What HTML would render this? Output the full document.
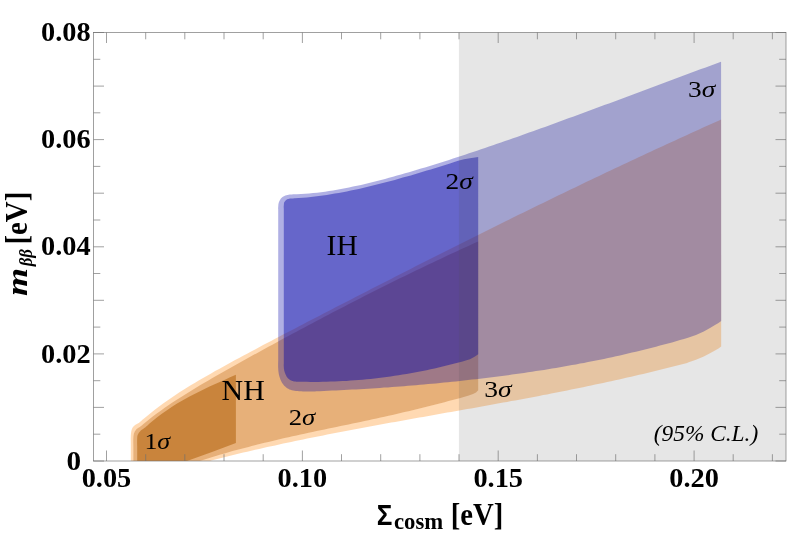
<!DOCTYPE html>
<html><head><meta charset="utf-8"><title>chart</title>
<style>
html,body{margin:0;padding:0;background:#fff;}
body{width:789px;height:533px;overflow:hidden;}
svg{display:block;font-family:"Liberation Serif",serif;fill:#000;}
svg{will-change:transform;}
</style></head><body>
<svg width="789" height="533" viewBox="0 0 789 533">
<defs><clipPath id="pa"><rect x="93.5" y="32.5" width="692.5" height="428.5"/></clipPath></defs>
<rect width="789" height="533" fill="#fff"/>
<g clip-path="url(#pa)">
<path d="M130.8,464.0 L130.8,460.5 L130.8,457.0 L130.8,453.5 L130.8,450.0 L130.8,446.3 L130.8,442.5 L130.7,438.9 L130.8,436.0 L130.9,433.9 L131.1,432.4 L131.3,431.2 L131.6,430.0 L132.0,428.8 L132.5,427.8 L133.2,426.8 L134.0,425.9 L135.1,425.0 L136.4,424.2 L137.8,423.5 L139.1,422.7 L140.2,421.8 L141.2,421.0 L142.1,420.1 L143.1,419.2 L147.1,415.9 L151.1,412.7 L155.1,409.6 L159.1,406.5 L163.1,403.6 L167.1,400.8 L171.1,398.0 L175.1,395.3 L179.1,392.6 L183.1,390.1 L187.1,387.5 L191.1,385.1 L195.1,382.7 L199.1,380.3 L203.1,378.0 L207.1,375.7 L211.1,373.4 L215.1,371.1 L219.1,368.9 L223.1,366.7 L227.1,364.5 L231.1,362.3 L235.1,360.1 L239.1,358.0 L243.1,355.8 L247.1,353.7 L251.1,351.5 L255.1,349.4 L259.1,347.3 L263.1,345.1 L267.1,343.0 L271.1,340.9 L275.1,338.8 L279.1,336.7 L283.1,334.6 L287.1,332.6 L291.1,330.5 L295.1,328.4 L299.1,326.3 L303.1,324.2 L307.1,322.1 L311.1,320.1 L315.1,318.0 L319.1,315.9 L323.1,313.8 L327.1,311.8 L331.1,309.7 L335.1,307.6 L339.1,305.6 L343.1,303.5 L347.1,301.4 L351.1,299.4 L355.1,297.3 L359.1,295.3 L363.1,293.2 L367.1,291.2 L371.1,289.1 L375.1,287.1 L379.1,285.0 L383.1,283.0 L387.1,280.9 L391.1,278.9 L395.1,276.8 L399.1,274.8 L403.1,272.7 L407.1,270.7 L411.1,268.7 L415.1,266.6 L419.1,264.6 L423.1,262.6 L427.1,260.6 L431.1,258.5 L435.1,256.5 L439.1,254.5 L443.1,252.5 L447.1,250.5 L451.1,248.5 L455.1,246.4 L459.1,244.4 L463.1,242.4 L467.1,240.4 L471.1,238.4 L475.1,236.4 L479.1,234.4 L483.1,232.5 L487.1,230.5 L491.1,228.5 L495.1,226.5 L499.1,224.5 L503.1,222.5 L507.1,220.6 L511.1,218.6 L515.1,216.6 L519.1,214.6 L523.1,212.7 L527.1,210.7 L531.1,208.8 L535.1,206.8 L539.1,204.8 L543.1,202.9 L547.1,200.9 L551.1,199.0 L555.1,197.1 L559.1,195.1 L563.1,193.2 L567.1,191.3 L571.1,189.3 L575.1,187.4 L579.1,185.5 L583.1,183.6 L587.1,181.6 L591.1,179.7 L595.1,177.8 L599.1,175.9 L603.1,174.0 L607.1,172.1 L611.1,170.2 L615.1,168.3 L619.1,166.4 L623.1,164.5 L627.1,162.7 L631.1,160.8 L635.1,158.9 L639.1,157.0 L643.1,155.2 L647.1,153.3 L651.1,151.4 L655.1,149.6 L659.1,147.7 L663.1,145.9 L667.1,144.0 L671.1,142.2 L675.1,140.4 L679.1,138.5 L683.1,136.7 L687.1,134.9 L691.1,133.1 L695.1,131.2 L699.1,129.4 L703.1,127.6 L707.1,125.8 L711.1,124.0 L715.1,122.2 L719.1,120.4 L721.1,119.5 L721.2,346.6 L718.5,348.6 L715.0,350.6 L710.0,353.3 L703.8,356.4 L696.0,359.8 L688.0,362.6 L687.2,362.9 L683.2,363.9 L679.2,365.0 L675.2,366.0 L671.2,367.0 L667.2,368.0 L663.2,369.0 L659.2,370.0 L655.2,371.0 L651.2,372.0 L647.2,373.0 L643.2,373.9 L639.2,374.8 L635.2,375.8 L631.2,376.7 L627.2,377.6 L623.2,378.5 L619.2,379.4 L615.2,380.3 L611.2,381.2 L607.2,382.1 L603.2,382.9 L599.2,383.8 L595.2,384.6 L591.2,385.5 L587.2,386.3 L583.2,387.2 L579.2,388.0 L575.2,388.8 L571.2,389.6 L567.2,390.4 L563.2,391.2 L559.2,392.0 L555.2,392.8 L551.2,393.6 L547.2,394.4 L543.2,395.1 L539.2,395.9 L535.2,396.7 L531.2,397.4 L527.2,398.2 L523.2,398.9 L519.2,399.7 L515.2,400.4 L511.2,401.1 L507.2,401.9 L503.2,402.6 L499.2,403.3 L495.2,404.1 L491.2,404.8 L487.2,405.5 L483.2,406.2 L479.2,406.9 L475.2,407.7 L471.2,408.4 L467.2,409.1 L463.2,409.8 L459.2,410.5 L455.2,411.2 L451.2,411.9 L447.2,412.6 L443.2,413.3 L439.2,414.1 L435.2,414.8 L431.2,415.5 L427.2,416.2 L423.2,416.9 L419.2,417.6 L415.2,418.3 L411.2,419.0 L407.2,419.7 L403.2,420.5 L399.2,421.2 L395.2,421.9 L391.2,422.6 L387.2,423.3 L383.2,424.1 L379.2,424.8 L375.2,425.5 L371.2,426.3 L367.2,427.0 L363.2,427.8 L359.2,428.5 L355.2,429.3 L351.2,430.0 L347.2,430.8 L343.2,431.5 L339.2,432.3 L335.2,433.1 L331.2,433.8 L327.2,434.6 L323.2,435.4 L319.2,436.2 L315.2,437.0 L311.2,437.8 L307.2,438.6 L303.2,439.5 L299.2,440.3 L295.2,441.1 L291.2,441.9 L287.2,442.8 L283.2,443.6 L279.2,444.5 L275.2,445.4 L271.2,446.3 L267.2,447.1 L263.2,448.0 L259.2,448.9 L255.2,449.8 L251.2,450.8 L247.2,451.7 L243.2,452.6 L239.2,453.6 L235.2,454.5 L231.2,455.5 L227.2,456.5 L223.2,457.5 L219.2,458.5 L215.2,459.5 L211.2,460.5 L204.0,464.0 Z" fill="rgb(255,128,0)" fill-opacity="0.30"/>
<path d="M133.4,464.0 L133.4,460.5 L133.4,456.9 L133.4,453.4 L133.4,450.0 L133.4,446.5 L133.3,442.9 L133.3,439.6 L133.4,437.0 L133.6,435.3 L133.8,434.2 L134.0,433.3 L134.4,432.5 L134.8,431.6 L135.3,430.7 L135.9,429.9 L136.6,429.1 L137.4,428.4 L138.4,427.8 L139.4,427.2 L140.4,426.6 L141.4,425.8 L142.4,424.9 L143.4,424.1 L144.4,423.2 L148.4,420.0 L152.4,416.8 L156.4,413.8 L160.4,410.9 L164.4,408.0 L168.4,405.3 L172.4,402.6 L176.4,399.9 L180.4,397.4 L184.4,394.9 L188.4,392.4 L192.4,389.9 L196.4,387.5 L200.4,385.1 L204.4,382.8 L208.4,380.4 L212.4,378.1 L216.4,375.8 L220.4,373.5 L224.4,371.2 L228.4,369.0 L232.4,366.7 L236.4,364.5 L240.4,362.3 L244.4,360.0 L248.4,357.8 L252.4,355.6 L256.4,353.4 L260.4,351.2 L264.4,349.0 L268.4,346.8 L272.4,344.7 L276.4,342.5 L280.4,340.3 L284.4,338.1 L288.4,336.0 L292.4,333.8 L296.4,331.7 L300.4,329.5 L304.4,327.4 L308.4,325.3 L312.4,323.2 L316.4,321.0 L320.4,318.9 L324.4,316.8 L328.4,314.7 L332.4,312.6 L336.4,310.5 L340.4,308.5 L344.4,306.4 L348.4,304.3 L352.4,302.3 L356.4,300.2 L360.4,298.2 L364.4,296.1 L368.4,294.1 L372.4,292.1 L376.4,290.1 L380.4,288.1 L384.4,286.1 L388.4,284.1 L392.4,282.1 L396.4,280.1 L400.4,278.1 L404.4,276.2 L408.4,274.2 L412.4,272.3 L416.4,270.3 L420.4,268.4 L424.4,266.5 L428.4,264.6 L432.4,262.7 L436.4,260.8 L440.4,258.9 L444.4,257.0 L448.4,255.1 L452.4,253.3 L456.4,251.4 L460.4,249.6 L464.4,247.8 L468.4,245.9 L472.4,244.1 L476.4,242.3 L478.2,241.5 L478.2,390.2 L476.0,392.4 L473.0,394.0 L468.0,395.8 L464.5,396.7 L460.5,397.9 L456.5,399.0 L452.5,400.1 L448.5,401.1 L444.5,402.2 L440.5,403.3 L436.5,404.3 L432.5,405.3 L428.5,406.3 L424.5,407.3 L420.5,408.3 L416.5,409.3 L412.5,410.2 L408.5,411.2 L404.5,412.1 L400.5,413.1 L396.5,414.0 L392.5,414.9 L388.5,415.8 L384.5,416.7 L380.5,417.6 L376.5,418.4 L372.5,419.3 L368.5,420.2 L364.5,421.0 L360.5,421.9 L356.5,422.7 L352.5,423.6 L348.5,424.4 L344.5,425.2 L340.5,426.1 L336.5,426.9 L332.5,427.8 L328.5,428.6 L324.5,429.4 L320.5,430.3 L316.5,431.1 L312.5,432.0 L308.5,432.8 L304.5,433.7 L300.5,434.6 L296.5,435.5 L292.5,436.3 L288.5,437.2 L284.5,438.1 L280.5,439.1 L276.5,440.0 L272.5,440.9 L268.5,441.9 L264.5,442.8 L260.5,443.8 L256.5,444.8 L252.5,445.8 L248.5,446.9 L244.5,447.9 L240.5,449.0 L236.5,450.0 L232.5,451.1 L228.5,452.3 L224.5,453.4 L220.5,454.6 L216.5,455.8 L212.5,457.0 L208.5,458.2 L204.5,459.5 L200.5,460.8 L193.0,464.0 Z" fill="rgb(197,120,43)" fill-opacity="0.42"/>
<path d="M137.2,464.0 L137.2,460.5 L137.2,456.9 L137.2,453.4 L137.2,450.0 L137.2,446.7 L137.1,443.4 L137.1,440.4 L137.2,438.0 L137.3,436.4 L137.5,435.5 L137.8,434.8 L138.2,434.0 L138.7,433.1 L139.3,432.3 L140.0,431.4 L140.8,430.6 L141.8,429.7 L143.1,428.9 L144.3,428.0 L145.5,427.2 L146.5,426.3 L147.5,425.4 L148.5,424.5 L149.5,423.6 L153.5,420.3 L157.5,417.1 L161.5,414.1 L165.5,411.2 L169.5,408.4 L173.5,405.8 L177.5,403.3 L181.5,401.0 L185.5,398.7 L189.5,396.5 L193.5,394.4 L197.5,392.4 L201.5,390.4 L205.5,388.5 L209.5,386.6 L213.5,384.8 L217.5,383.0 L221.5,381.2 L225.5,379.4 L229.5,377.6 L233.5,375.8 L235.9,374.7 L235.9,443.0 L212.0,451.9 L187.6,460.8 L180.5,464.0 Z" fill="rgb(188,114,34)" fill-opacity="0.70"/>
<path d="M278.2,300.0 L278.2,282.9 L278.2,264.8 L278.2,247.2 L278.2,231.7 L278.2,220.0 L278.2,213.0 L278.2,209.6 L278.1,208.4 L278.1,208.0 L278.2,207.0 L278.3,205.4 L278.4,204.2 L278.6,203.3 L278.8,202.4 L279.2,201.5 L279.7,200.5 L280.3,199.5 L280.9,198.6 L281.7,197.7 L282.5,197.0 L283.4,196.4 L284.4,195.9 L285.4,195.5 L286.4,195.2 L287.5,194.9 L288.6,194.7 L289.7,194.5 L290.9,194.4 L292.0,194.4 L293.0,194.3 L293.9,194.3 L294.7,194.2 L295.5,194.2 L296.2,194.2 L297.0,194.2 L301.0,194.0 L305.0,193.8 L309.0,193.5 L313.0,193.1 L317.0,192.7 L321.0,192.2 L325.0,191.7 L329.0,191.1 L333.0,190.4 L337.0,189.8 L341.0,189.0 L345.0,188.3 L349.0,187.5 L353.0,186.6 L357.0,185.8 L361.0,184.9 L365.0,183.9 L369.0,183.0 L373.0,182.0 L377.0,180.9 L381.0,179.9 L385.0,178.9 L389.0,177.8 L393.0,176.7 L397.0,175.6 L401.0,174.5 L405.0,173.3 L409.0,172.2 L413.0,171.0 L417.0,169.8 L421.0,168.6 L425.0,167.4 L429.0,166.2 L433.0,164.9 L437.0,163.7 L441.0,162.4 L445.0,161.2 L449.0,159.9 L453.0,158.6 L457.0,157.3 L461.0,156.0 L465.0,154.7 L469.0,153.3 L473.0,152.0 L477.0,150.7 L481.0,149.3 L485.0,148.0 L489.0,146.6 L493.0,145.2 L497.0,143.8 L501.0,142.5 L505.0,141.1 L509.0,139.7 L513.0,138.3 L517.0,136.9 L521.0,135.5 L525.0,134.0 L529.0,132.6 L533.0,131.2 L537.0,129.8 L541.0,128.3 L545.0,126.9 L549.0,125.4 L553.0,124.0 L557.0,122.5 L561.0,121.1 L565.0,119.6 L569.0,118.1 L573.0,116.7 L577.0,115.2 L581.0,113.7 L585.0,112.3 L589.0,110.8 L593.0,109.3 L597.0,107.8 L601.0,106.3 L605.0,104.8 L609.0,103.4 L613.0,101.9 L617.0,100.4 L621.0,98.9 L625.0,97.4 L629.0,95.9 L633.0,94.4 L637.0,92.9 L641.0,91.4 L645.0,89.9 L649.0,88.4 L653.0,86.9 L657.0,85.5 L661.0,84.0 L665.0,82.5 L669.0,81.0 L673.0,79.5 L677.0,78.0 L681.0,76.5 L685.0,75.0 L689.0,73.6 L693.0,72.1 L697.0,70.6 L701.0,69.1 L705.0,67.7 L709.0,66.2 L713.0,64.7 L717.0,63.3 L721.0,61.8 L721.1,61.8 L721.2,321.0 L718.5,322.9 L715.0,325.1 L710.0,328.1 L703.8,331.4 L696.0,334.9 L688.0,337.8 L684.0,339.0 L680.0,340.1 L676.0,341.3 L672.0,342.4 L668.0,343.5 L664.0,344.6 L660.0,345.6 L656.0,346.7 L652.0,347.7 L648.0,348.7 L644.0,349.7 L640.0,350.7 L636.0,351.7 L632.0,352.6 L628.0,353.6 L624.0,354.5 L620.0,355.4 L616.0,356.3 L612.0,357.2 L608.0,358.0 L604.0,358.9 L600.0,359.7 L596.0,360.5 L592.0,361.3 L588.0,362.1 L584.0,362.9 L580.0,363.6 L576.0,364.4 L572.0,365.1 L568.0,365.8 L564.0,366.5 L560.0,367.2 L556.0,367.9 L552.0,368.6 L548.0,369.2 L544.0,369.9 L540.0,370.5 L536.0,371.1 L532.0,371.7 L528.0,372.3 L524.0,372.9 L520.0,373.5 L516.0,374.1 L512.0,374.6 L508.0,375.2 L504.0,375.7 L500.0,376.2 L496.0,376.7 L492.0,377.2 L488.0,377.7 L484.0,378.2 L480.0,378.7 L476.0,379.2 L472.0,379.6 L468.0,380.1 L464.0,380.5 L460.0,381.0 L456.0,381.4 L452.0,381.8 L448.0,382.2 L444.0,382.6 L440.0,383.0 L436.0,383.4 L432.0,383.8 L428.0,384.1 L424.0,384.5 L420.0,384.8 L416.0,385.2 L412.0,385.5 L408.0,385.8 L404.0,386.2 L400.0,386.5 L396.0,386.8 L392.0,387.1 L388.0,387.4 L384.0,387.6 L380.0,387.9 L376.0,388.2 L372.0,388.4 L368.0,388.7 L364.0,388.9 L360.0,389.2 L356.0,389.4 L352.0,389.6 L348.0,389.8 L344.0,390.1 L340.0,390.3 L336.0,390.5 L332.0,390.6 L328.0,390.8 L324.0,391.0 L320.0,391.2 L316.0,391.3 L315.3,391.4 L314.7,391.4 L314.1,391.5 L313.2,391.5 L312.0,391.5 L310.2,391.5 L308.0,391.5 L305.5,391.4 L303.1,391.4 L301.0,391.3 L299.2,391.2 L297.5,391.1 L296.0,391.0 L294.5,390.8 L293.1,390.5 L291.8,390.2 L290.5,389.8 L289.4,389.4 L288.3,388.8 L287.2,388.2 L286.2,387.5 L285.2,386.6 L284.2,385.7 L283.3,384.6 L282.5,383.5 L281.7,382.3 L281.1,380.9 L280.4,379.5 L279.9,378.0 L279.4,376.5 L279.0,375.1 L278.7,373.6 L278.5,372.1 L278.3,370.5 L278.2,368.5 L278.1,366.8 L278.1,365.5 L278.1,363.7 L278.2,360.4 L278.2,355.0 L278.2,346.7 L278.2,336.0 L278.2,324.0 L278.2,311.7 L278.2,300.0 Z" fill="rgb(0,0,167)" fill-opacity="0.31"/>
<path d="M283.8,300.0 L283.8,283.0 L283.8,264.9 L283.8,247.3 L283.8,231.8 L283.8,220.0 L283.8,212.7 L283.8,208.9 L283.7,207.3 L283.7,206.6 L283.8,205.4 L283.9,204.0 L284.0,203.1 L284.1,202.6 L284.3,202.3 L284.6,201.8 L285.0,201.2 L285.4,200.7 L285.9,200.2 L286.4,199.8 L287.0,199.4 L287.7,199.1 L288.4,198.9 L289.2,198.7 L290.0,198.6 L290.8,198.5 L291.6,198.4 L292.4,198.4 L293.2,198.4 L294.0,198.3 L294.8,198.3 L298.8,198.1 L302.8,197.7 L306.8,197.4 L310.8,197.0 L314.8,196.5 L318.8,196.0 L322.8,195.5 L326.8,194.9 L330.8,194.3 L334.8,193.6 L338.8,192.9 L342.8,192.2 L346.8,191.4 L350.8,190.6 L354.8,189.8 L358.8,188.9 L362.8,188.0 L366.8,187.1 L370.8,186.1 L374.8,185.1 L378.8,184.1 L382.8,183.1 L386.8,182.0 L390.8,181.0 L394.8,179.9 L398.8,178.8 L402.8,177.6 L406.8,176.5 L410.8,175.4 L414.8,174.2 L418.8,173.0 L422.8,171.8 L426.8,170.6 L430.8,169.4 L434.8,168.2 L438.8,167.0 L442.8,165.8 L446.8,164.6 L450.0,163.6 L455.0,161.8 L459.0,160.4 L464.0,159.2 L470.0,158.2 L478.2,157.1 L478.2,354.2 L475.0,356.6 L470.0,359.2 L466.6,360.2 L462.6,361.4 L458.6,362.5 L454.6,363.6 L450.6,364.6 L446.6,365.6 L442.6,366.6 L438.6,367.6 L434.6,368.5 L430.6,369.3 L426.6,370.2 L422.6,371.0 L418.6,371.8 L414.6,372.5 L410.6,373.2 L406.6,373.9 L402.6,374.6 L398.6,375.2 L394.6,375.8 L390.6,376.4 L386.6,377.0 L382.6,377.5 L378.6,378.0 L374.6,378.4 L370.6,378.9 L366.6,379.3 L362.6,379.7 L358.6,380.0 L354.6,380.3 L350.6,380.6 L346.6,380.9 L342.6,381.1 L338.6,381.3 L334.6,381.5 L330.6,381.6 L326.6,381.8 L322.6,381.8 L318.6,381.9 L314.6,381.9 L310.6,381.9 L306.6,381.8 L302.6,381.8 L298.6,381.7 L297.8,381.7 L297.0,381.7 L296.2,381.7 L295.4,381.6 L294.6,381.5 L293.8,381.4 L292.9,381.1 L292.1,380.9 L291.3,380.6 L290.5,380.2 L289.8,379.8 L289.1,379.3 L288.5,378.8 L287.9,378.2 L287.3,377.5 L286.7,376.7 L286.2,375.7 L285.7,374.7 L285.2,373.6 L284.8,372.5 L284.5,371.5 L284.2,370.6 L284.1,369.6 L283.9,368.4 L283.8,366.9 L283.7,365.6 L283.7,364.7 L283.8,363.2 L283.8,360.2 L283.8,355.0 L283.8,346.8 L283.8,336.1 L283.8,324.1 L283.8,311.7 L283.8,300.0 Z" fill="rgb(0,0,167)" fill-opacity="0.42"/>
</g>
<rect x="458.9" y="32.5" width="327.1" height="428.5" fill="rgb(80,80,80)" fill-opacity="0.143"/>
<rect x="93.5" y="32.5" width="692.5" height="428.5" fill="none" stroke="#707070" stroke-width="0.66"/>
<path d="M106.5,461.0 v-10.5 M106.5,32.5 v10.5 M145.7,461.0 v-6.8 M145.7,32.5 v6.8 M184.8,461.0 v-6.8 M184.8,32.5 v6.8 M224.0,461.0 v-6.8 M224.0,32.5 v6.8 M263.2,461.0 v-6.8 M263.2,32.5 v6.8 M302.4,461.0 v-10.5 M302.4,32.5 v10.5 M341.5,461.0 v-6.8 M341.5,32.5 v6.8 M380.7,461.0 v-6.8 M380.7,32.5 v6.8 M419.9,461.0 v-6.8 M419.9,32.5 v6.8 M459.0,461.0 v-6.8 M459.0,32.5 v6.8 M498.2,461.0 v-10.5 M498.2,32.5 v10.5 M537.4,461.0 v-6.8 M537.4,32.5 v6.8 M576.5,461.0 v-6.8 M576.5,32.5 v6.8 M615.7,461.0 v-6.8 M615.7,32.5 v6.8 M654.9,461.0 v-6.8 M654.9,32.5 v6.8 M694.1,461.0 v-10.5 M694.1,32.5 v10.5 M733.2,461.0 v-6.8 M733.2,32.5 v6.8 M772.4,461.0 v-6.8 M772.4,32.5 v6.8 M93.5,461.0 h10.5 M786.0,461.0 h-10.5 M93.5,434.2 h6.8 M786.0,434.2 h-6.8 M93.5,407.4 h10.5 M786.0,407.4 h-10.5 M93.5,380.7 h6.8 M786.0,380.7 h-6.8 M93.5,353.9 h10.5 M786.0,353.9 h-10.5 M93.5,327.1 h6.8 M786.0,327.1 h-6.8 M93.5,300.3 h10.5 M786.0,300.3 h-10.5 M93.5,273.5 h6.8 M786.0,273.5 h-6.8 M93.5,246.8 h10.5 M786.0,246.8 h-10.5 M93.5,220.0 h6.8 M786.0,220.0 h-6.8 M93.5,193.2 h10.5 M786.0,193.2 h-10.5 M93.5,166.4 h6.8 M786.0,166.4 h-6.8 M93.5,139.6 h10.5 M786.0,139.6 h-10.5 M93.5,112.8 h6.8 M786.0,112.8 h-6.8 M93.5,86.1 h10.5 M786.0,86.1 h-10.5 M93.5,59.3 h6.8 M786.0,59.3 h-6.8 M93.5,32.5 h10.5 M786.0,32.5 h-10.5 " stroke="#707070" stroke-width="0.66" fill="none"/>
<text x="90.6" y="41.1" font-size="27.0" font-weight="bold" font-style="normal" text-anchor="end" textLength="49.6" lengthAdjust="spacingAndGlyphs" >0.08</text>
<text x="90.6" y="148.2" font-size="27.0" font-weight="bold" font-style="normal" text-anchor="end" textLength="49.6" lengthAdjust="spacingAndGlyphs" >0.06</text>
<text x="90.6" y="255.3" font-size="27.0" font-weight="bold" font-style="normal" text-anchor="end" textLength="49.6" lengthAdjust="spacingAndGlyphs" >0.04</text>
<text x="90.6" y="362.5" font-size="27.0" font-weight="bold" font-style="normal" text-anchor="end" textLength="49.6" lengthAdjust="spacingAndGlyphs" >0.02</text>
<text x="81.0" y="469.5" font-size="27.0" font-weight="bold" font-style="normal" text-anchor="end" textLength="14.6" lengthAdjust="spacingAndGlyphs" >0</text>
<text x="106.5" y="486.6" font-size="27.0" font-weight="bold" font-style="normal" text-anchor="middle" textLength="49.6" lengthAdjust="spacingAndGlyphs" >0.05</text>
<text x="302.4" y="486.6" font-size="27.0" font-weight="bold" font-style="normal" text-anchor="middle" textLength="49.6" lengthAdjust="spacingAndGlyphs" >0.10</text>
<text x="498.2" y="486.6" font-size="27.0" font-weight="bold" font-style="normal" text-anchor="middle" textLength="49.6" lengthAdjust="spacingAndGlyphs" >0.15</text>
<text x="694.1" y="486.6" font-size="27.0" font-weight="bold" font-style="normal" text-anchor="middle" textLength="49.6" lengthAdjust="spacingAndGlyphs" >0.20</text>
<text x="376.8" y="524.5" font-size="30.0" font-weight="bold" font-style="normal" text-anchor="start" textLength="15.6" lengthAdjust="spacingAndGlyphs" font-family="Liberation Sans, sans-serif">&#931;</text>
<text x="394.0" y="529.2" font-size="22.5" font-weight="bold" font-style="normal" text-anchor="start" textLength="49.2" lengthAdjust="spacingAndGlyphs" >cosm</text>
<text x="450.8" y="524.5" font-size="31.0" font-weight="bold" font-style="normal" text-anchor="start" textLength="52.5" lengthAdjust="spacingAndGlyphs" >[eV]</text>
<g transform="translate(26.5,296.3) rotate(-90)">
<text x="0.3" y="0.0" font-size="30.0" font-weight="bold" font-style="italic" text-anchor="start" textLength="28.0" lengthAdjust="spacingAndGlyphs" >m</text>
<text x="30.0" y="5.8" font-size="19.0" font-weight="bold" font-style="italic" text-anchor="start" textLength="17.2" lengthAdjust="spacingAndGlyphs" >&#946;&#946;</text>
<text x="51.7" y="0.0" font-size="31.0" font-weight="bold" font-style="normal" text-anchor="start" textLength="53.0" lengthAdjust="spacingAndGlyphs" >[eV]</text>
</g>
<text x="326.6" y="254.9" font-size="29.0" font-weight="normal" font-style="normal" text-anchor="start" textLength="31.2" lengthAdjust="spacingAndGlyphs" >IH</text>
<text x="221.6" y="399.5" font-size="29.0" font-weight="normal" font-style="normal" text-anchor="start" textLength="43.2" lengthAdjust="spacingAndGlyphs" >NH</text>
<text x="445.6" y="189.4" font-size="22.5" textLength="27.2" lengthAdjust="spacingAndGlyphs">2<tspan font-style="italic">&#963;</tspan></text>
<text x="688.0" y="97.2" font-size="22.5" textLength="27.2" lengthAdjust="spacingAndGlyphs">3<tspan font-style="italic">&#963;</tspan></text>
<text x="288.8" y="424.7" font-size="22.5" textLength="26.5" lengthAdjust="spacingAndGlyphs">2<tspan font-style="italic">&#963;</tspan></text>
<text x="484.2" y="396.6" font-size="22.5" textLength="27.4" lengthAdjust="spacingAndGlyphs">3<tspan font-style="italic">&#963;</tspan></text>
<text x="144.4" y="449.2" font-size="22.5" textLength="25.8" lengthAdjust="spacingAndGlyphs">1<tspan font-style="italic">&#963;</tspan></text>
<text x="653.8" y="441.1" font-size="24.0" font-weight="normal" font-style="italic" text-anchor="start" textLength="104.4" lengthAdjust="spacingAndGlyphs" >(95% C.L.)</text>
</svg>
</body></html>
